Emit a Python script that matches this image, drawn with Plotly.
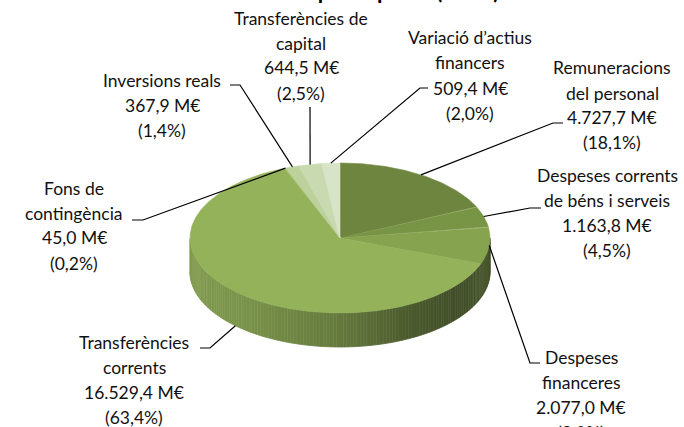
import numpy as np
import plotly.graph_objects as go

# ---------------- data ----------------
categories = [
    "Remuneracions<br>del personal",
    "Despeses corrents<br>de béns i serveis",
    "Despeses<br>financeres",
    "Transferències<br>corrents",
    "Fons de<br>contingència",
    "Inversions reals",
    "Transferències de<br>capital",
    "Variació d’actius<br>financers",
]
values = [4727.7, 1163.8, 2077.0, 16529.4, 45.0, 367.9, 644.5, 509.4]
colors = ["#6E8540", "#789545", "#86A34F", "#94B25A", "#A7C27A", "#BDD19D", "#C9DAB1", "#D8E4C8"]
title_text = "Distribució per capítols (2012)"

# ---------------- layout of the 3D pie (pixels) ----------------
W, H = 684, 427
CX, CY, A, B, DEPTH = 340, 238, 150, 75, 34
START = 90.0  # degrees, clockwise

# label layout: text centre x, first line centre y, elbow points, anchor on bottom rim
label_layout = [
    (612, 68, [(553, 123), (563, 123)], False),
    (607, 175, [(530, 208), (541, 208)], False),
    (581, 357, [(530, 363), (540, 363)], False),
    (134, 342, [(210, 348), (200, 348)], True),
    (74, 188, [(143, 220), (132, 220)], False),
    (162, 80, [(240, 85), (230, 85)], False),
    (301, 18, [(310, 107)], False),
    (470, 38, [(420, 88), (428, 88)], False),
]
LINE_H = 25
FONT = "Lato"
FSIZE = 17.5

vals = np.array(values, dtype=float)
total = vals.sum()
frac = vals / total
cum = np.concatenate([[0], np.cumsum(frac)])


def pt(theta_deg, dy=0.0):
    t = np.radians(theta_deg)
    return CX + A * np.cos(t), CY - B * np.sin(t) + dy


def slice_of(theta_deg):
    off = ((START - theta_deg) % 360) / 360.0
    k = np.searchsorted(cum, off, side="right") - 1
    return int(min(max(k, 0), len(values) - 1))


def hex2rgb(h):
    h = h.lstrip("#")
    return [int(h[i:i + 2], 16) for i in (0, 2, 4)]


def shade(hexc, f):
    r, g, b = hex2rgb(hexc)
    return f"rgb({int(r * f)},{int(g * f)},{int(b * f)})"


fig = go.Figure()

# ---- side (front half) ----
n_strips = 140
edges = np.linspace(180, 360, n_strips + 1)
cs = [-1, -0.6, 0, 0.5, 0.8, 1]
fs = [0.87, 0.82, 0.68, 0.50, 0.43, 0.50]
for i in range(n_strips):
    t1, t2 = edges[i], edges[i + 1]
    tm = 0.5 * (t1 + t2)
    k = slice_of(tm)
    f = float(np.interp(np.cos(np.radians(tm)), cs, fs))
    col = shade(colors[k], f)
    ts = np.linspace(t1, t2, 3)
    xs_top, ys_top = pt(ts)
    xs_bot, ys_bot = pt(ts[::-1], DEPTH)
    xs = list(xs_top) + list(xs_bot)
    ys = list(ys_top) + list(ys_bot)
    fig.add_trace(go.Scatter(x=xs, y=ys, mode="lines", fill="toself", fillcolor=col,
                             line=dict(color=col, width=0.8), hoverinfo="skip",
                             showlegend=False))

# ---- top slices ----
for k in range(len(values)):
    a1 = START - 360 * cum[k]
    a2 = START - 360 * cum[k + 1]
    n = max(4, int(abs(a2 - a1) * 2))
    ts = np.linspace(a1, a2, n)
    xs, ys = pt(ts)
    xs = [CX] + list(xs) + [CX]
    ys = [CY] + list(ys) + [CY]
    fig.add_trace(go.Scatter(x=xs, y=ys, mode="lines", fill="toself", fillcolor=colors[k],
                             line=dict(color=colors[k], width=0.6), hoverinfo="skip",
                             showlegend=False))


def fmt(v, d=1):
    s = f"{v:,.{d}f}"
    return s.replace(",", "X").replace(".", ",").replace("X", ".")


def px2paper(x, y):
    return x / W, 1 - y / H


annotations = []
for k, name in enumerate(categories):
    lx, ly, elbows, bottom = label_layout[k]
    mid = START - 360 * (cum[k] + cum[k + 1]) / 2
    ax, ay = pt(mid, DEPTH if bottom else 0)
    xs = [ax] + [e[0] for e in elbows]
    ys = [ay] + [e[1] for e in elbows]
    fig.add_trace(go.Scatter(x=xs, y=ys, mode="lines", line=dict(color="black", width=1.2),
                             hoverinfo="skip", showlegend=False))
    lines = name.split("<br>") + [f"{fmt(values[k])} M€", f"({fmt(100 * frac[k])}%)"]
    for i, ln in enumerate(lines):
        px, py = px2paper(lx, ly + i * LINE_H)
        annotations.append(dict(x=px, y=py, xref="paper", yref="paper", text=ln,
                                showarrow=False, xanchor="center", yanchor="middle",
                                font=dict(family=FONT, size=FSIZE, color="#111111")))

tx, ty = px2paper(CX + 12, -9.5)
annotations.append(dict(x=tx, y=ty, xref="paper", yref="paper", text=f"<b>{title_text}</b>",
                        showarrow=False, xanchor="center", yanchor="middle",
                        font=dict(family="Lato", size=22, color="black")))

fig.update_layout(
    width=W, height=H,
    margin=dict(l=0, r=0, t=0, b=0),
    paper_bgcolor="white", plot_bgcolor="white",
    xaxis=dict(range=[0, W], visible=False, fixedrange=True),
    yaxis=dict(range=[H, 0], visible=False, fixedrange=True),
    annotations=annotations,
    showlegend=False,
)

fig.write_html("out.html", config={"displayModeBar": False},
               post_script="document.body.style.margin='0';document.body.style.overflow='hidden';")
